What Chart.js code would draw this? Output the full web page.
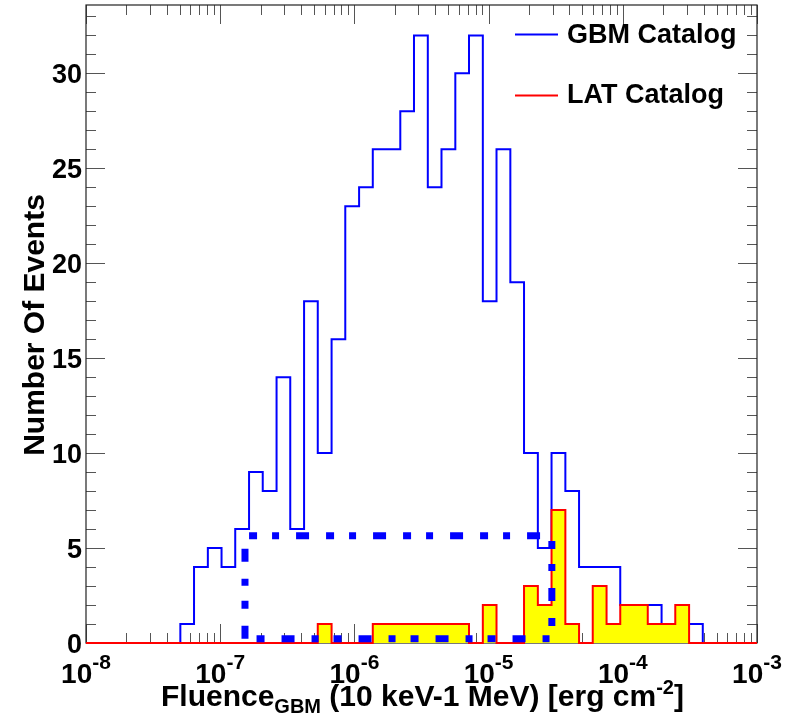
<!DOCTYPE html>
<html>
<head>
<meta charset="utf-8">
<script src="https://cdn.jsdelivr.net/npm/chart.js@4.4.0/dist/chart.umd.min.js"></script>
<style>
html, body { margin: 0; padding: 0; background: #fff; }
canvas { display: block; }
</style>
</head>
<body>
<canvas id="fluenceChart" width="785" height="724"></canvas>
<script>

/* ================= DATA ================= */
// lower edges of the fluence bins, log10(erg cm^-2)
const binEdgesLog = [
    -7.297, -7.195, -7.092, -6.990, -6.888, -6.785, -6.683, -6.580, -6.478, -6.375,
    -6.273, -6.170, -6.068, -5.965, -5.863, -5.760, -5.658, -5.556, -5.453, -5.351,
    -5.248, -5.146, -5.043, -4.941, -4.838, -4.736, -4.633, -4.531, -4.428, -4.326,
    -4.224, -4.121, -4.019, -3.916, -3.814, -3.711, -3.609, -3.506, -3.404
];

const gbmCounts = [
    1, 4, 5, 4, 6, 9, 8, 14, 6, 18,
    10, 16, 23, 24, 26, 26, 28, 32, 24, 26,
    30, 32, 18, 26, 19, 10, 5, 10, 8, 4,
    4, 4, 2, 2, 2, 1, 1, 1
];

const latCounts = [
    0, 0, 0, 0, 0, 0, 0, 0, 0, 0,
    1, 0, 0, 0, 1, 1, 1, 1, 1, 1,
    1, 0, 2, 0, 0, 3, 2, 7, 1, 0,
    3, 1, 2, 2, 1, 1, 2, 0
];

// dashed selection box: fluence range and count range
const boxFluence = [1.53e-7, 2.96e-5];
const boxCounts = [0.23, 5.65];

const seriesNames = ["GBM Catalog", "LAT Catalog"];
const xDecades = [-8, -7, -6, -5, -4, -3];
const yTickLabels = [0, 5, 10, 15, 20, 25, 30];
const xMin = 1e-8, xMax = 1e-3;
const yMin = 0, yMax = 33.6;

const BLUE = "#0000ff";
const RED = "#ff0000";
const YELLOW = "#ffff00";
const FONT = "'Liberation Sans', Arial, Helvetica, sans-serif";

/* ================= HISTOGRAM POINTS ================= */
function histPoints(counts) {
    const pts = [{ x: xMin, y: 0 }];
    counts.forEach((c, i) => pts.push({ x: Math.pow(10, binEdgesLog[i]), y: c }));
    pts.push({ x: Math.pow(10, binEdgesLog[counts.length]), y: 0 });
    pts.push({ x: xMax, y: 0 });
    return pts;
}

const boxPoints = [
    { x: boxFluence[0], y: boxCounts[0] },
    { x: boxFluence[0], y: boxCounts[1] },
    { x: boxFluence[1], y: boxCounts[1] },
    { x: boxFluence[1], y: boxCounts[0] },
    { x: boxFluence[0], y: boxCounts[0] }
];

/* ================= FRAME + TICKS + TEXT ================= */
const rootFrame = {
    id: "rootFrame",
    beforeDatasetsDraw(chart) {
        const { ctx, chartArea: a, scales: { x, y } } = chart;
        ctx.save();
        ctx.strokeStyle = "#555";
        ctx.lineWidth = 1;
        ctx.beginPath();

        // log x ticks, bottom and top
        xDecades.forEach((d, i) => {
            const px = Math.round(x.getPixelForValue(Math.pow(10, d))) + 0.5;
            ctx.moveTo(px, a.bottom); ctx.lineTo(px, a.bottom - 19);
            ctx.moveTo(px, a.top); ctx.lineTo(px, a.top + 19);
            if (i === xDecades.length - 1) return;
            for (let m = 2; m <= 9; m++) {
                const mx = Math.round(x.getPixelForValue(m * Math.pow(10, d))) + 0.5;
                ctx.moveTo(mx, a.bottom); ctx.lineTo(mx, a.bottom - 10);
                ctx.moveTo(mx, a.top); ctx.lineTo(mx, a.top + 10);
            }
        });

        // y ticks, left and right
        for (let v = 0; v <= Math.floor(yMax); v++) {
            const py = Math.round(y.getPixelForValue(v)) + 0.5;
            const len = v % 5 === 0 ? 19 : 10;
            ctx.moveTo(a.left, py); ctx.lineTo(a.left + len, py);
            ctx.moveTo(a.right, py); ctx.lineTo(a.right - len, py);
        }
        ctx.stroke();

        ctx.strokeStyle = "#222";
        ctx.lineWidth = 1.2;
        ctx.strokeRect(a.left, a.top, a.right - a.left, a.bottom - a.top);
        ctx.restore();
    },
    afterDraw(chart) {
        const { ctx, chartArea: a, scales: { x, y } } = chart;
        ctx.save();
        ctx.fillStyle = "#000";
        ctx.textBaseline = "alphabetic";

        // y tick labels
        ctx.font = "bold 27px " + FONT;
        ctx.textAlign = "right";
        yTickLabels.forEach(v => {
            ctx.fillText(String(v), a.left - 4, y.getPixelForValue(v) + 10);
        });

        // x tick labels 10^d
        ctx.textAlign = "left";
        xDecades.forEach(d => {
            const px = x.getPixelForValue(Math.pow(10, d));
            ctx.font = "bold 28px " + FONT;
            const wBase = ctx.measureText("10").width;
            ctx.font = "bold 21px " + FONT;
            const sup = String(d);
            const wSup = ctx.measureText(sup).width;
            const x0 = px - (wBase + wSup) / 2;
            ctx.font = "bold 28px " + FONT;
            ctx.fillText("10", x0, 683);
            ctx.font = "bold 21px " + FONT;
            ctx.fillText(sup, x0 + wBase, 669);
        });

        // x title with sub/superscript
        const parts = [
            ["Fluence", 30, 706],
            ["GBM", 20, 713],
            [" (10 keV-1 MeV) [erg cm", 30, 706],
            ["-2", 20, 694],
            ["]", 30, 706]
        ];
        let tx = 161;
        parts.forEach(p => {
            ctx.font = "bold " + p[1] + "px " + FONT;
            ctx.fillText(p[0], tx, p[2]);
            tx += ctx.measureText(p[0]).width;
        });

        // y title
        ctx.save();
        ctx.translate(44, (a.top + a.bottom) / 2 + 1);
        ctx.rotate(-Math.PI / 2);
        ctx.textAlign = "center";
        ctx.font = "bold 30px " + FONT;
        ctx.fillText("Number Of Events", 0, 0);
        ctx.restore();

        // legend
        const legendRows = [[BLUE, 34.5, 43], [RED, 95.5, 103]];
        ctx.font = "bold 27px " + FONT;
        ctx.textAlign = "left";
        legendRows.forEach((r, i) => {
            ctx.strokeStyle = r[0];
            ctx.lineWidth = 2;
            ctx.beginPath();
            ctx.moveTo(515, r[1]);
            ctx.lineTo(558, r[1]);
            ctx.stroke();
            ctx.fillText(seriesNames[i], 567, r[2]);
        });
        ctx.restore();
    }
};

/* ================= CHART ================= */
new Chart(document.getElementById("fluenceChart"), {
    type: "line",
    data: {
        datasets: [
            {
                label: "box",
                data: boxPoints,
                borderColor: BLUE,
                borderWidth: 7,
                borderDash: [13, 17, 8, 15, 7, 17],
                borderCapStyle: "butt",
                borderJoinStyle: "miter",
                pointRadius: 0,
                fill: false,
                tension: 0,
                clip: false,
                order: 0
            },
            {
                label: seriesNames[1],
                data: histPoints(latCounts),
                borderColor: RED,
                backgroundColor: YELLOW,
                borderWidth: 2,
                stepped: true,
                pointRadius: 0,
                fill: "origin",
                clip: false,
                order: 1
            },
            {
                label: seriesNames[0],
                data: histPoints(gbmCounts),
                borderColor: BLUE,
                borderWidth: 2,
                stepped: true,
                pointRadius: 0,
                fill: false,
                clip: false,
                order: 2
            }
        ]
    },
    options: {
        responsive: false,
        animation: false,
        devicePixelRatio: 1,
        layout: { padding: { left: 86, right: 28, top: 5, bottom: 81 } },
        scales: {
            x: { type: "logarithmic", min: xMin, max: xMax, display: false },
            y: { type: "linear", min: yMin, max: yMax, display: false }
        },
        plugins: {
            legend: { display: false },
            tooltip: { enabled: false }
        }
    },
    plugins: [rootFrame]
});

</script>
</body>
</html>
